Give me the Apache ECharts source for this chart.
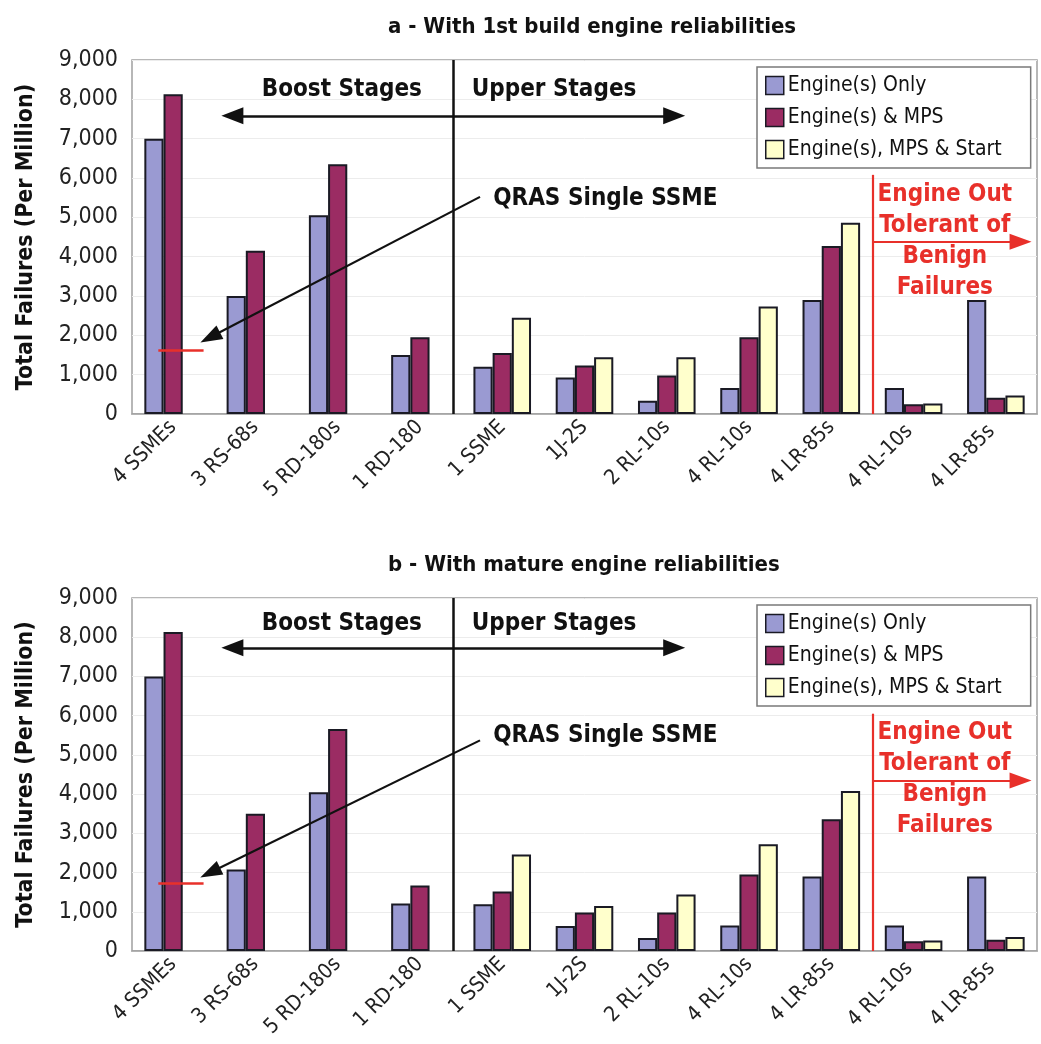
<!DOCTYPE html>
<html><head><meta charset="utf-8">
<script src="https://cdn.jsdelivr.net/npm/echarts@6/dist/echarts.min.js"></script>
<style>html,body{margin:0;padding:0;background:#fff}#c{width:1041px;height:1044px}</style>
</head><body><div id="c"></div>
<script>
// ---------- DATA ----------
const categories = ['4 SSMEs','3 RS-68s','5 RD-180s','1 RD-180','1 SSME','1J-2S','2 RL-10s','4 RL-10s','4 LR-85s','4 RL-10s ','4 LR-85s '];
const seriesNames = ['Engine(s) Only','Engine(s) & MPS','Engine(s), MPS & Start'];
const yTicks = [0,1000,2000,3000,4000,5000,6000,7000,8000,9000];

// a - 1st build
const engineOnlyA = [7000,3000,5050,1500,1200,930,340,660,2900,660,2900];
const engineMpsA  = [8130,4150,6350,1950,1550,1230,980,1950,4270,250,410];
const engineMpsStartA = [null,null,null,null,2450,1440,1440,2730,4860,270,470];
const qrasA = 1630;

// b - mature
const engineOnlyB = [7000,2080,4050,1210,1190,640,330,650,1900,650,1900];
const engineMpsB  = [8130,3500,5660,1670,1520,980,980,1950,3360,250,290];
const engineMpsStartB = [null,null,null,null,2460,1150,1440,2720,4080,270,360];
const qrasB = 1730;

const titles = ['a - With 1st build engine reliabilities','b - With mature engine reliabilities'];
const yName = 'Total Failures (Per Million)';
const boostLabel = 'Boost Stages', upperLabel = 'Upper Stages', qrasLabel = 'QRAS Single SSME';
const eoLabel = 'Engine Out\nTolerant of\nBenign\nFailures';

// annotation anchors in data units (x: category units 0..11, y: failures)
const annA = {sep:3.9, stagesY:7580, stagesX:[1.22,6.59], textY:8240, boostX:2.55, upperX:5.13,
  qrasTxt:[4.39,5460], qrasFrom:[4.23,5520], qrasTo:[0.95,1950], qrasMark:[0.32,0.87],
  eoX:9, eoTop:6080, eoArrowY:4380, eoArrowX2:10.8, eoTxt:[9.88,4390]};
const annB = {sep:3.9, stagesY:7730, stagesX:[1.22,6.59], textY:8340, boostX:2.55, upperX:5.13,
  qrasTxt:[4.39,5490], qrasFrom:[4.23,5370], qrasTo:[0.95,2000], qrasMark:[0.32,0.87],
  eoX:9, eoTop:6050, eoArrowY:4350, eoArrowX2:10.8, eoTxt:[9.88,4370]};

// ---------- STYLE ----------
const FONT = '"Liberation Sans Narrow","DejaVu Sans Condensed","Arial Narrow",sans-serif';
const colors = ['#9a9ad2','#9b2c63','#ffffcc'];
const RED = '#e8302a';
const panels = [
  {top:60, height:354, titleTop:11, legendTop:67,
   vals:[engineOnlyA,engineMpsA,engineMpsStartA], qras:qrasA, ann:annA},
  {top:598, height:353, titleTop:549, legendTop:605,
   vals:[engineOnlyB,engineMpsB,engineMpsStartB], qras:qrasB, ann:annB}
];

const option = {animation:false, backgroundColor:'#fff', title:[], grid:[], xAxis:[], yAxis:[], series:[], legend:[]};

panels.forEach((p,i)=>{
  const a = p.ann;
  option.title.push({text:titles[i], left:383, top:p.titleTop,
    textStyle:{fontFamily:FONT, fontSize:22, fontWeight:'bold', color:'#111'}});
  option.grid.push({left:132, right:4, top:p.top, height:p.height, show:true,
    borderColor:'#a0a0a0', borderWidth:1.5, backgroundColor:'transparent'});
  option.xAxis.push({type:'category', gridIndex:i, data:categories,
    axisTick:{show:false}, axisLine:{lineStyle:{color:'#a0a0a0', width:1.5}},
    axisLabel:{interval:0, rotate:45, margin:10, fontFamily:FONT, fontSize:21, color:'#222'}});
  option.xAxis.push({type:'value', gridIndex:i, min:0, max:11, show:false});
  option.yAxis.push({type:'value', gridIndex:i, min:0, max:9000, interval:1000,
    name:yName, nameLocation:'middle', nameRotate:90, nameGap:94,
    nameTextStyle:{fontFamily:FONT, fontSize:23, fontWeight:'bold', color:'#111'},
    axisLine:{show:false}, axisTick:{show:false},
    axisLabel:{margin:14, fontFamily:FONT, fontSize:23, color:'#222',
      formatter:v=>v.toLocaleString('en-US')},
    splitLine:{lineStyle:{color:'#ececec', width:1}}});
  seriesNames.forEach((n,k)=>{
    option.series.push({type:'bar', name:n, xAxisIndex:2*i, yAxisIndex:i, data:p.vals[k],
      barGap:'0%', barCategoryGap:'30%',
      itemStyle:{color:colors[k], borderColor:'#1a1a24', borderWidth:2},
      emphasis:{disabled:true}});
  });
  option.legend.push({data:seriesNames, orient:'vertical', left:757, top:p.legendTop,
    backgroundColor:'#fff', borderColor:'#7a7a7a', borderWidth:1.5,
    padding:[8,29,8,8], itemWidth:18, itemHeight:18, itemGap:11, icon:'rect',
    itemStyle:{borderColor:'#1a1a24', borderWidth:1.5},
    textStyle:{fontFamily:FONT, fontSize:21, color:'#111', padding:[0,0,0,-1]}});

  const blk = {color:'#111', width:2.5, type:'solid'};
  const redS = {color:RED, width:2.2, type:'solid'};
  option.series.push({type:'line', xAxisIndex:2*i+1, yAxisIndex:i, data:[], silent:true, z:10,
    symbol:'none',
    markLine:{silent:true, animation:false, label:{show:false}, emphasis:{disabled:true},
      symbol:['none','none'], lineStyle:{type:'solid', opacity:1},
      data:[
        [{coord:[a.sep,0], lineStyle:blk},{coord:[a.sep,9000]}],
        [{coord:[a.stagesX[0],a.stagesY], symbol:'triangle', symbolSize:[17,22], lineStyle:blk},
         {coord:[a.stagesX[1],a.stagesY], symbol:'triangle', symbolSize:[17,22]}],
        [{coord:a.qrasFrom, lineStyle:{color:'#111', width:2.2, type:'solid'}},
         {coord:a.qrasTo, symbol:'triangle', symbolSize:[15,22]}],
        [{coord:[a.qrasMark[0],p.qras], lineStyle:{color:RED, width:2.5, type:'solid'}},{coord:[a.qrasMark[1],p.qras]}],
        [{coord:[a.eoX,0], lineStyle:redS},{coord:[a.eoX,a.eoTop]}],
        [{coord:[a.eoX,a.eoArrowY], lineStyle:redS},
         {coord:[a.eoArrowX2,a.eoArrowY], symbol:'triangle', symbolSize:[16,22]}]
      ]}
  });
  const lab = (x,y,txt,extra)=>({value:[x,y], name:txt, label:Object.assign({show:true}, extra||{})});
  option.series.push({type:'scatter', xAxisIndex:2*i+1, yAxisIndex:i, symbolSize:0, silent:true, z:11,
    itemStyle:{opacity:1},
    label:{show:true, position:'inside', formatter:'{b}', fontFamily:FONT, fontSize:24,
      fontWeight:'bold', color:'#111', textBorderWidth:0, opacity:1},
    data:[
      lab(a.boostX, a.textY, boostLabel),
      lab(a.upperX, a.textY, upperLabel),
      lab(a.qrasTxt[0], a.qrasTxt[1], qrasLabel, {position:'right', distance:0}),
      lab(a.eoTxt[0], a.eoTxt[1], eoLabel, {color:RED, lineHeight:31, align:'center'})
    ]});
});

const chart = echarts.init(document.getElementById('c'), null, {renderer:'canvas'});
chart.setOption(option);
</script></body></html>
